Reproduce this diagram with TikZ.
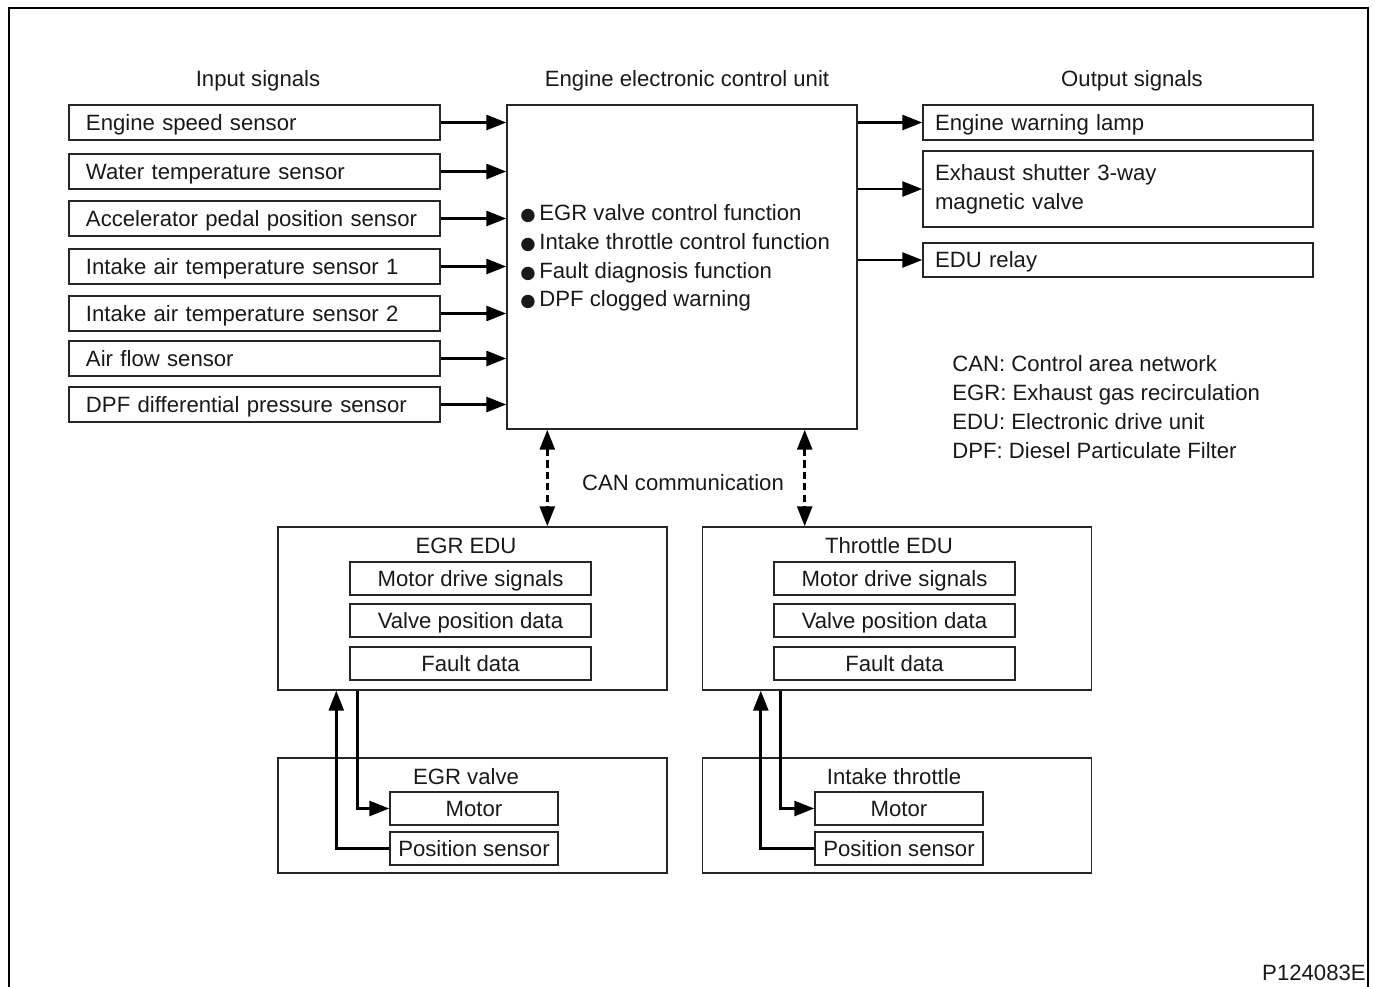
\documentclass[tikz,border=0pt]{standalone}
\usepackage{fontspec}
\setmainfont{Liberation Sans}
\newfontfamily\symfont{DejaVu Sans}
\usetikzlibrary{arrows.meta,positioning,calc}

\begin{document}
\begin{tikzpicture}[
    box/.style={rectangle, draw=black!85, line width=0.8pt, inner sep=0pt},
    oneline/.style={text height=0.92em, text depth=0.02em},
    insig/.style={box, oneline, minimum width=7.42cm, minimum height=0.7cm, text width=6.74cm, align=left},
    outsig/.style={box, minimum width=7.8cm, text width=7.32cm, align=left},
    item/.style={box, oneline, minimum width=4.82cm, minimum height=0.66cm},
    part/.style={box, oneline, minimum width=3.36cm, minimum height=0.66cm},
    unit/.style={box, minimum width=7.78cm},
    sig/.style={-{Triangle[length=4mm,width=3mm]}, line width=1.5pt},
    can/.style={{Triangle[length=4mm,width=3mm]}-{Triangle[length=4mm,width=3mm]}, line width=1.5pt, dash pattern=on 4pt off 2.5pt},
    font=\fontsize{12.6pt}{16.4pt}\selectfont, text=black!90
]
    \useasboundingbox (0,0) rectangle (27.5,-19.74);
    \draw[line width=1.1pt] (0.18,-19.74) |- (27.36,-0.16) -- (27.36,-19.74);

    % Headings
    \node (intitle) at (5.16,-1.62) {Input signals};
    \node (ecutitle) at (13.74,-1.62) {Engine electronic control unit};
    \node (outtitle) at (22.64,-1.62) {Output signals};

    % Input signals
    \node[insig] (in1) at (5.09,-2.45) {Engine speed sensor};
    \node[insig] (in2) at (5.09,-3.43) {Water temperature sensor};
    \node[insig] (in3) at (5.09,-4.37) {Accelerator pedal position sensor};
    \node[insig] (in4) at (5.09,-5.33) {Intake air temperature sensor 1};
    \node[insig] (in5) at (5.09,-6.27) {Intake air temperature sensor 2};
    \node[insig] (in6) at (5.09,-7.17) {Air flow sensor};
    \node[insig] (in7) at (5.09,-8.09) {DPF differential pressure sensor};

    % Control unit
    \node[box, minimum width=7cm, minimum height=6.48cm] (ecu) at (13.64,-5.34) {};
    \node[anchor=west, align=left, inner sep=0pt] (ecufn) at (10.4,-5.16)
        {{\symfont\fontsize{10pt}{10pt}\selectfont●}\,EGR valve control function\\
         {\symfont\fontsize{10pt}{10pt}\selectfont●}\,Intake throttle control function\\
         {\symfont\fontsize{10pt}{10pt}\selectfont●}\,Fault diagnosis function\\
         {\symfont\fontsize{10pt}{10pt}\selectfont●}\,DPF clogged warning};

    % Output signals
    \node[outsig, oneline, minimum height=0.7cm] (out1) at (22.36,-2.45) {Engine warning lamp};
    \node[outsig, minimum height=1.52cm] (out2) at (22.36,-3.78) {Exhaust shutter 3-way\\magnetic valve};
    \node[outsig, oneline, minimum height=0.68cm] (out3) at (22.36,-5.2) {EDU relay};

    \foreach \i in {1,...,7}
        \draw[sig] (in\i.east) -- (ecu.west |- in\i.east);
    \foreach \i in {1,2,3}
        \draw[sig] (ecu.east |- out\i.west) -- (out\i.west);

    % Abbreviations
    \node[anchor=west, align=left, inner sep=0pt] (abbr) at (19.04,-8.14)
        {CAN: Control area network\\EGR: Exhaust gas recirculation\\EDU: Electronic drive unit\\DPF: Diesel Particulate Filter};

    % Drive units
    \node[unit, minimum height=3.26cm] (egredu) at (9.45,-12.17) {};
    \node (egredut) at (9.32,-10.92) {EGR EDU};
    \node[item] (egrm) at (9.41,-11.57) {Motor drive signals};
    \node[item] (egrv) at (9.41,-12.41) {Valve position data};
    \node[item] (egrf) at (9.41,-13.27) {Fault data};

    \node[unit, minimum height=3.26cm] (thredu) at (17.94,-12.17) {};
    \node (thredut) at (17.78,-10.92) {Throttle EDU};
    \node[item] (thrm) at (17.89,-11.57) {Motor drive signals};
    \node[item] (thrv) at (17.89,-12.41) {Valve position data};
    \node[item] (thrf) at (17.89,-13.27) {Fault data};

    \draw[can] ([xshift=0.82cm]ecu.south west) -- ([xshift=0.82cm]ecu.south west |- egredu.north);
    \draw[can] ([xshift=-1.06cm]ecu.south east) -- ([xshift=-1.06cm]ecu.south east |- thredu.north);
    \node (cantxt) at (13.66,-9.66) {CAN communication};

    % Actuators
    \node[unit, minimum height=2.3cm] (egrvalve) at (9.45,-16.31) {};
    \node (egrvalvet) at (9.32,-15.54) {EGR valve};
    \node[part] (egrmot) at (9.48,-16.17) {Motor};
    \node[part] (egrpos) at (9.48,-16.97) {Position sensor};

    \node[unit, minimum height=2.3cm] (thrvalve) at (17.94,-16.31) {};
    \node (thrvalvet) at (17.88,-15.54) {Intake throttle};
    \node[part] (thrmot) at (17.98,-16.17) {Motor};
    \node[part] (thrpos) at (17.98,-16.97) {Position sensor};

    \draw[sig] ([xshift=1.6cm]egredu.south west) |- (egrmot.west);
    \draw[sig] (egrpos.west) -| ([xshift=1.18cm]egredu.south west);
    \draw[sig] ([xshift=1.58cm]thredu.south west) |- (thrmot.west);
    \draw[sig] (thrpos.west) -| ([xshift=1.18cm]thredu.south west);

    % Figure number
    \node[anchor=east, inner sep=0pt] (fignum) at (27.32,-19.46) {P124083E};
\end{tikzpicture}
\end{document}
